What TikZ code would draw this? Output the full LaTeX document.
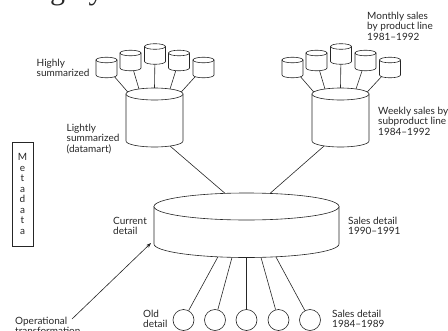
\documentclass[tikz,border=0pt]{standalone}
\usepackage{fontspec}
\setmainfont{Lato}
\newfontfamily\titlefont{Liberation Serif}
\usetikzlibrary{arrows.meta}
\pgfdeclarelayer{bg}
\pgfsetlayers{bg,main}
\colorlet{ink}{black!85}
\tikzset{
  cylline/.style={draw=ink, fill=white, line width=0.6pt},
  conn/.style={draw=ink, line width=0.6pt},
  lbl/.style={font=\fontsize{10}{10.7}\selectfont, text=ink, align=left, inner sep=0pt, anchor=base west},
  oldcirc/.style={circle, draw=ink, fill=white, line width=0.6pt, minimum size=21pt, inner sep=0pt},
  metabox/.style={draw=ink, line width=0.6pt, minimum width=21pt, minimum height=104pt, inner sep=0pt, align=center, text=ink, font=\fontsize{10}{10.5}\selectfont}
}
% #1 name, #2 cx, #3 top-ellipse centre y, #4 bottom-ellipse centre y, #5 rx, #6 ry (y measured downward)
\newcommand\dbcyl[6]{%
  \node[inner sep=0pt, minimum width={2*#5pt}, minimum height={(#4-#3+2*#6)*1pt}] (#1) at (#2,{-(#3+#4)/2}) {};
  \coordinate (#1T) at (#2,-#3);
  \coordinate (#1B) at (#2,-#4);
  \path[cylline] (#2-#5,-#3) -- (#2-#5,-#4) arc[start angle=180,end angle=360,x radius=#5pt,y radius=#6pt] -- (#2+#5,-#3) -- cycle;
  \path[cylline] (#2,-#3) ellipse[x radius=#5pt,y radius=#6pt];
}
\begin{document}
\begin{tikzpicture}[x=1pt,y=1pt]
\useasboundingbox (0,0) rectangle (448,-330);

% cut-off heading at the top edge
\node[font=\titlefont\fontsize{30}{30}\selectfont, anchor=base west, inner sep=0pt, text=ink] (title) at (20,1) {Highly summarized data};

% small cylinders, left
\dbcyl{sL1}{106.5}{60}{75}{10.5}{2.8}
\dbcyl{sL2}{130.5}{53}{68}{10.5}{2.8}
\dbcyl{sL3}{155}{46.5}{61.5}{10.5}{2.8}
\dbcyl{sL4}{179}{53}{68}{10.5}{2.8}
\dbcyl{sL5}{203.5}{60}{75}{10.5}{2.8}
% small cylinders, right
\dbcyl{sR1}{292.5}{60}{75}{10.5}{2.8}
\dbcyl{sR2}{316.5}{53}{68}{10.5}{2.8}
\dbcyl{sR3}{341}{46.5}{61.5}{10.5}{2.8}
\dbcyl{sR4}{365.5}{53}{68}{10.5}{2.8}
\dbcyl{sR5}{390}{60}{75}{10.5}{2.8}
% big cylinders
\dbcyl{bigL}{154.5}{94}{141}{28.5}{6}
\dbcyl{bigR}{340.5}{94}{141}{28.5}{6}
% current detail disk
\dbcyl{disk}{246.5}{206.5}{244}{92.5}{13.5}

% old detail circles
\node[oldcirc] (o1) at (183.5,-320) {};
\node[oldcirc] (o2) at (215,-320) {};
\node[oldcirc] (o3) at (246.5,-320) {};
\node[oldcirc] (o4) at (278.5,-320) {};
\node[oldcirc] (o5) at (310,-320) {};

% metadata
\node[metabox] (meta) at (22.5,-194) {M\\e\\t\\a\\d\\a\\t\\a};

% labels (anchored at the baseline of their last line)
\node[lbl] (hs) at (36.5,-76.7) {Highly\\summarized};
\node[lbl] (ls) at (66.5,-152.4) {Lightly\\summarized\\(datamart)};
\node[lbl] (ms) at (367,-40.4) {Monthly sales\\by product line\\1981--1992};
\node[lbl] (ws) at (378,-135.4) {Weekly sales by\\subproduct line\\1984--1992};
\node[lbl] (cd) at (113,-234.7) {Current\\detail};
\node[lbl] (sd) at (348,-234.7) {Sales detail\\1990--1991};
\node[lbl] (op) at (15,-334.7) {Operational\\transformation};
\node[lbl] (od) at (143,-327.7) {Old\\detail};
\node[lbl] (sdo) at (332,-327.7) {Sales detail\\1984--1989};

\coordinate (optail) at (72,-319);
\coordinate (ophead) at (151,-243);
\draw[conn, -{Stealth[length=5pt,width=3.6pt]}] (optail) -- (ophead);

\begin{pgfonlayer}{bg}
  \foreach \i/\a in {1/160,2/123,3/90,4/57,5/20}{
    \draw[conn] (sL\i.center) -- ([shift={(bigLT)}]\a:28.5pt and 6pt);
    \draw[conn] (sR\i.center) -- ([shift={(bigRT)}]\a:28.5pt and 6pt);
  }
  \draw[conn] ([shift={(bigLB)}]-57:28.5pt and 6pt) -- ([shift={(diskT)}]103.4:92.5pt and 13.5pt);
  \draw[conn] ([shift={(bigRB)}]-125:28.5pt and 6pt) -- ([shift={(diskT)}]75.3:92.5pt and 13.5pt);
  \foreach \i/\a in {1/-108,2/-99,3/-90,4/-81,5/-71.5}{
    \draw[conn] ([shift={(diskB)}]\a:92.5pt and 13.5pt) -- (o\i);
  }
\end{pgfonlayer}
\end{tikzpicture}
\end{document}
